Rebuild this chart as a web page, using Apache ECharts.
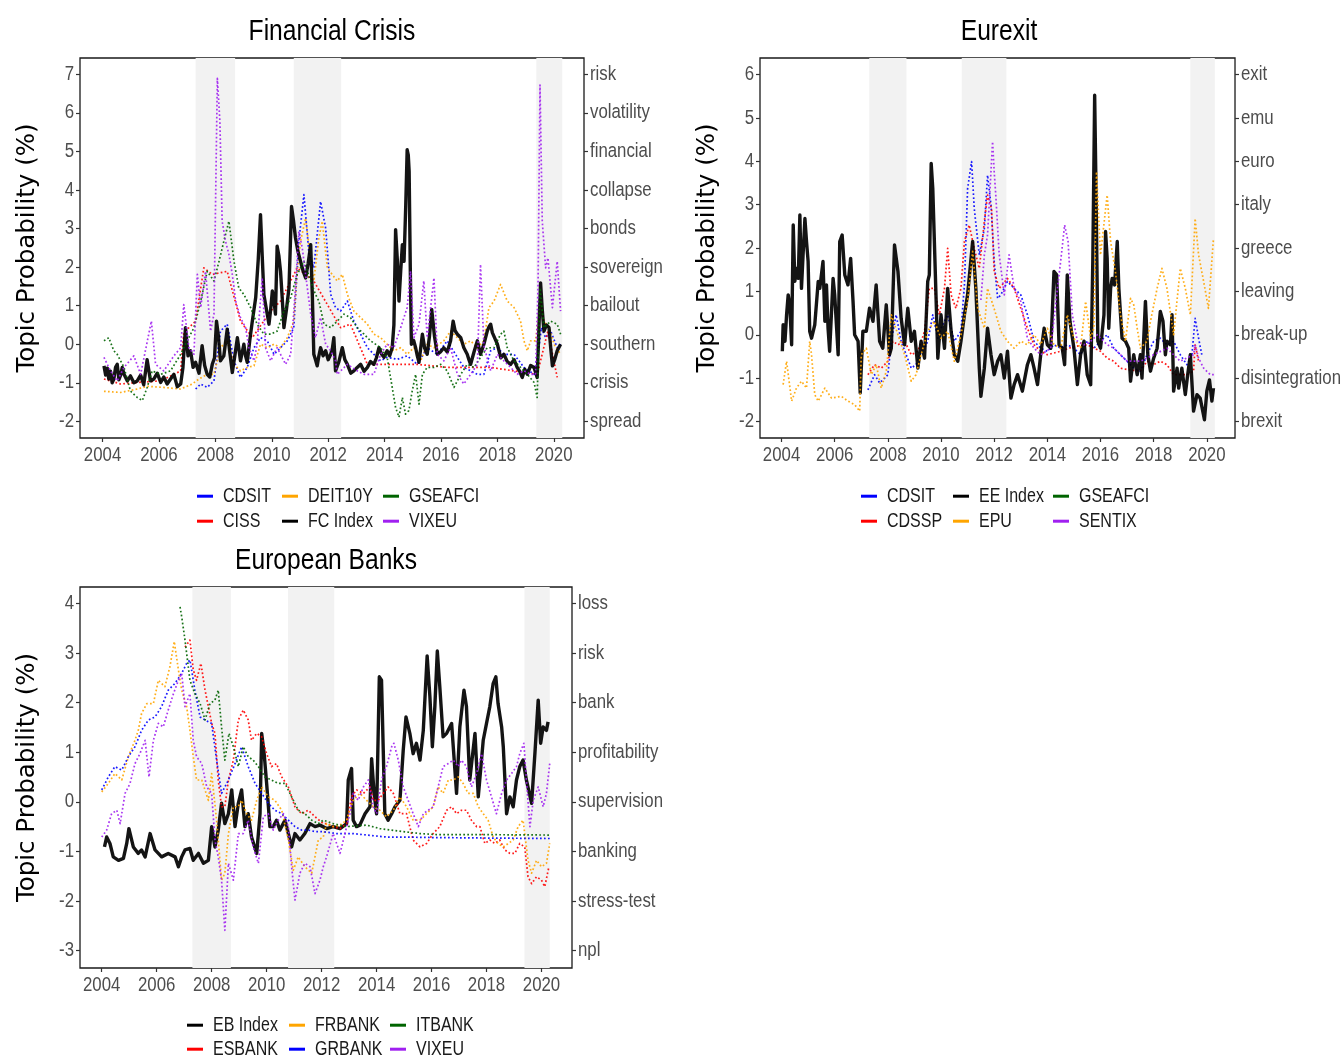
<!DOCTYPE html>
<html><head><meta charset="utf-8">
<script src="https://cdn.jsdelivr.net/npm/echarts@6/dist/echarts.min.js"></script>
<style>html,body{margin:0;padding:0;background:#fff}#c{width:1344px;height:1059px}</style>
</head><body><div id="c"></div>
<script>
// ---------- shared ----------
const yearTicks = [2004,2006,2008,2010,2012,2014,2016,2018,2020];
const recessions = [[2007.3,2008.7],[2010.78,2012.46],[2019.38,2020.3]];
const yAxisTitle = 'Topic Probability (%)';

// ---------- Panel 1: Financial Crisis ----------
const p1Ticks = [7,6,5,4,3,2,1,0,-1,-2];
const p1Words = ['risk','volatility','financial','collapse','bonds','sovereign','bailout','southern','crisis','spread'];
const p1CDSIT = [[2007.30,-1.16],[2007.48,-1.03],[2007.71,-1.12],[2007.95,-0.95],[2008.18,0.34],[2008.42,0.52],[2008.66,-0.43],[2008.89,-0.86],[2009.13,-0.6],[2009.37,-0.09],[2009.60,0.17],[2009.84,0.09],[2010.08,-0.26],[2010.31,-0.09],[2010.55,0.09],[2010.78,0.43],[2010.96,2.67],[2011.14,3.88],[2011.32,2.33],[2011.49,1.98],[2011.73,3.7],[2011.91,3.01],[2012.09,1.29],[2012.26,0.95],[2012.44,0.86],[2012.68,1.12],[2012.91,0.6],[2013.15,0.26],[2013.39,-0.09],[2013.62,-0.26],[2013.86,-0.43],[2014.09,-0.34],[2014.45,-0.39],[2014.80,-0.3],[2015.16,-0.52],[2015.51,-0.09],[2015.87,-0.26],[2016.22,0.09],[2016.58,-0.34],[2016.81,-0.6],[2017.05,-0.69],[2017.29,-0.78],[2017.52,-0.78],[2017.76,-0.17],[2018.00,-0.09],[2018.23,-0.26],[2018.59,-0.26],[2018.94,-0.6],[2019.30,-0.78],[2019.47,-0.09],[2019.56,0.43],[2019.71,0.17],[2019.89,0.34],[2020.12,-0.09],[2020.24,0]];
const p1CISS = [[2004.05,-0.9],[2004.64,-1.03],[2005.23,-0.99],[2006.06,-0.95],[2006.77,-0.69],[2006.88,0.3],[2007.30,0.6],[2007.59,1.98],[2007.89,1.81],[2008.42,1.89],[2008.89,0.6],[2009.31,0.17],[2009.96,0.86],[2010.31,1.12],[2010.90,1.98],[2011.49,1.64],[2012.44,0.43],[2012.79,0.52],[2013.39,-0.52],[2013.98,-0.52],[2015.16,-0.52],[2016.22,-0.6],[2017.76,-0.6],[2019.41,-0.78],[2019.79,0.34],[2020.12,-0.86]];
const p1DEIT10Y = [[2004.05,-1.22],[2004.64,-1.25],[2005.23,-1.16],[2005.58,-1.09],[2006.17,-1.12],[2006.77,-1.16],[2007.18,-1.03],[2007.42,-0.9],[2007.71,-0.78],[2007.95,-0.78],[2008.18,-0.09],[2008.42,0.09],[2008.66,-0.52],[2008.89,-0.69],[2009.13,-0.6],[2009.37,-0.56],[2009.60,0],[2009.84,-0.09],[2010.08,0],[2010.31,-0.09],[2010.55,0.17],[2010.78,0.6],[2010.90,1.89],[2011.02,2.67],[2011.20,3.27],[2011.38,2.15],[2011.49,1.64],[2011.67,2.76],[2011.79,3.19],[2011.97,1.98],[2012.14,1.81],[2012.32,1.64],[2012.50,1.81],[2012.68,1.29],[2012.91,0.86],[2013.15,0.69],[2013.39,0.52],[2013.62,0.26],[2013.86,0.17],[2014.09,0],[2014.33,-0.17],[2014.57,-0.09],[2014.80,-0.26],[2015.04,-0.09],[2015.28,-0.43],[2015.51,0],[2015.75,-0.09],[2016.10,0.09],[2016.34,0.34],[2016.58,0.17],[2016.81,0],[2017.05,0.09],[2017.29,-0.09],[2017.52,0.09],[2017.70,0.95],[2017.88,1.12],[2018.11,1.55],[2018.35,1.12],[2018.59,0.95],[2018.82,0.6],[2018.94,0.09],[2019.06,-0.17],[2019.18,0.09],[2019.35,0.09],[2019.53,1.12],[2019.65,0.6],[2019.83,0.43],[2020.01,0],[2020.24,-0.26]];
const p1FCIndex = [[2004.05,-0.56],[2004.11,-0.8],[2004.17,-0.62],[2004.22,-0.9],[2004.28,-0.7],[2004.34,-1.0],[2004.40,-0.9],[2004.46,-0.6],[2004.52,-0.52],[2004.58,-0.92],[2004.64,-0.8],[2004.70,-0.6],[2004.76,-0.78],[2004.88,-0.95],[2004.99,-0.82],[2005.11,-1.0],[2005.23,-0.95],[2005.35,-0.8],[2005.46,-1.05],[2005.58,-0.4],[2005.70,-0.95],[2005.82,-0.9],[2005.94,-0.75],[2006.06,-0.99],[2006.17,-0.85],[2006.29,-1.03],[2006.41,-0.9],[2006.53,-0.78],[2006.65,-1.1],[2006.77,-1.03],[2006.85,-0.6],[2006.94,0.43],[2007.03,-0.3],[2007.12,-0.17],[2007.21,-0.6],[2007.30,-0.47],[2007.42,-0.75],[2007.53,-0.04],[2007.62,-0.55],[2007.71,-0.78],[2007.80,-0.85],[2007.89,-0.52],[2007.97,-0.35],[2008.04,0.6],[2008.11,0.2],[2008.18,-0.43],[2008.30,-0.3],[2008.42,0.39],[2008.51,-0.2],[2008.60,-0.73],[2008.69,-0.3],[2008.78,0.17],[2008.89,-0.43],[2009.01,0],[2009.07,-0.3],[2009.13,-0.47],[2009.22,0.1],[2009.31,0.6],[2009.43,1.21],[2009.52,2.2],[2009.60,3.36],[2009.66,2.3],[2009.72,1.29],[2009.81,0.9],[2009.90,0.52],[2009.96,0.9],[2010.02,1.38],[2010.08,1.1],[2010.13,0.78],[2010.19,2.54],[2010.25,2.3],[2010.31,1.89],[2010.37,1.2],[2010.43,0.43],[2010.52,0.9],[2010.61,1.46],[2010.70,3.57],[2010.77,3.2],[2010.84,2.76],[2010.93,2.4],[2011.02,2.15],[2011.11,1.9],[2011.20,1.72],[2011.29,2.1],[2011.38,2.58],[2011.44,1.2],[2011.49,-0.26],[2011.55,-0.4],[2011.61,-0.56],[2011.67,-0.3],[2011.73,-0.09],[2011.82,-0.3],[2011.91,-0.17],[2012.00,-0.4],[2012.09,-0.26],[2012.15,-0.1],[2012.20,0.17],[2012.26,-0.69],[2012.38,-0.45],[2012.50,-0.09],[2012.59,-0.4],[2012.68,-0.52],[2012.80,-0.75],[2012.91,-0.69],[2013.03,-0.6],[2013.15,-0.52],[2013.27,-0.7],[2013.39,-0.6],[2013.50,-0.45],[2013.62,-0.52],[2013.71,-0.35],[2013.80,-0.09],[2013.89,-0.25],[2013.98,-0.34],[2014.09,-0.17],[2014.18,-0.3],[2014.27,-0.09],[2014.33,0.5],[2014.39,2.97],[2014.45,2.2],[2014.51,1.12],[2014.57,1.89],[2014.63,2.58],[2014.69,2.15],[2014.75,3.6],[2014.80,5.04],[2014.84,4.9],[2014.87,4.48],[2014.91,2.0],[2014.95,0],[2015.03,0.1],[2015.10,-0.09],[2015.16,-0.3],[2015.22,-0.47],[2015.28,-0.1],[2015.34,0.26],[2015.42,-0.1],[2015.51,-0.26],[2015.59,0.2],[2015.67,0.9],[2015.77,0.2],[2015.87,-0.26],[2015.98,-0.2],[2016.10,-0.09],[2016.22,-0.2],[2016.34,0.09],[2016.43,0.6],[2016.50,0.35],[2016.58,0.26],[2016.70,0.17],[2016.81,-0.09],[2016.93,-0.26],[2016.99,-0.4],[2017.05,-0.52],[2017.17,-0.2],[2017.29,0.09],[2017.40,-0.26],[2017.52,0.0],[2017.64,0.34],[2017.70,0.45],[2017.76,0.52],[2017.82,0.3],[2017.88,0.34],[2017.94,0.1],[2018.00,0],[2018.12,-0.35],[2018.23,-0.26],[2018.35,-0.45],[2018.47,-0.52],[2018.59,-0.4],[2018.70,-0.6],[2018.79,-0.7],[2018.88,-0.86],[2018.97,-0.65],[2019.06,-0.78],[2019.18,-0.55],[2019.30,-0.6],[2019.41,-0.86],[2019.44,-0.26],[2019.48,0.6],[2019.53,1.59],[2019.59,0.9],[2019.65,0.34],[2019.74,0.5],[2019.83,0.43],[2019.89,-0.1],[2019.95,-0.56],[2020.03,-0.4],[2020.12,-0.17],[2020.24,0]];
const p1GSEAFCI = [[2004.05,0.09],[2004.22,0.17],[2004.40,-0.17],[2004.52,-0.26],[2004.76,-0.6],[2004.99,-1.21],[2005.23,-1.38],[2005.41,-1.46],[2005.58,-1.12],[2005.76,-0.69],[2006.06,-0.78],[2006.41,-0.69],[2006.77,-0.26],[2007.00,0.09],[2007.24,0.43],[2007.48,1.12],[2007.71,1.89],[2007.95,1.64],[2008.13,2.15],[2008.30,2.67],[2008.48,3.19],[2008.66,2.15],[2008.83,1.46],[2009.01,1.29],[2009.25,0.95],[2009.48,0.52],[2009.72,0.26],[2009.96,0.26],[2010.19,0.34],[2010.43,0.86],[2010.67,1.21],[2010.90,1.81],[2011.14,2.15],[2011.38,1.64],[2011.55,1.29],[2011.67,1.12],[2011.85,0.52],[2012.09,0.43],[2012.32,0.6],[2012.56,0.78],[2012.79,0.69],[2013.03,0.43],[2013.27,0.26],[2013.50,0.09],[2013.86,-0.09],[2014.09,-0.34],[2014.27,-1.12],[2014.39,-1.64],[2014.51,-1.89],[2014.63,-1.38],[2014.74,-1.81],[2014.86,-1.72],[2014.98,-1.21],[2015.10,-0.78],[2015.22,-1.55],[2015.34,-0.78],[2015.51,-0.6],[2015.75,-0.6],[2015.99,-0.52],[2016.22,-0.69],[2016.46,-1.12],[2016.70,-0.78],[2016.93,-0.52],[2017.17,-0.6],[2017.40,-0.34],[2017.64,-0.09],[2017.88,-0.09],[2018.11,0.26],[2018.23,0.34],[2018.35,-0.09],[2018.59,-0.43],[2018.82,-0.6],[2019.06,-0.78],[2019.30,-0.99],[2019.41,-1.38],[2019.51,1.46],[2019.65,0.43],[2019.89,0.6],[2020.12,0.52],[2020.24,0.26]];
const p1VIXEU = [[2004.05,-0.34],[2004.28,-0.69],[2004.52,-0.95],[2004.76,-0.6],[2005.11,-0.3],[2005.35,-0.78],[2005.73,0.6],[2005.88,-0.52],[2006.17,-0.69],[2006.53,-0.3],[2006.77,-0.09],[2006.88,1.03],[2007.06,-0.09],[2007.24,-0.26],[2007.36,1.81],[2007.48,0.95],[2007.65,1.89],[2007.83,0.34],[2007.95,0.78],[2008.07,6.89],[2008.16,5.77],[2008.24,3.19],[2008.36,2.67],[2008.48,2.33],[2008.60,1.81],[2008.72,1.12],[2008.89,0.69],[2009.07,0.43],[2009.19,-0.09],[2009.37,-0.43],[2009.48,0],[2009.66,1.72],[2009.78,-0.09],[2009.96,-0.43],[2010.19,-0.09],[2010.31,-0.26],[2010.49,-0.52],[2010.67,-0.26],[2010.84,1.46],[2010.96,2.93],[2011.08,2.5],[2011.26,1.46],[2011.38,0.78],[2011.55,0.17],[2011.73,0.69],[2011.91,0],[2012.09,-0.17],[2012.26,-0.43],[2012.32,-0.78],[2012.68,-0.52],[2013.03,-0.69],[2013.27,-0.78],[2013.62,-0.78],[2013.86,-0.26],[2014.09,0],[2014.33,-0.09],[2014.57,0.43],[2014.80,0.95],[2014.92,1.89],[2015.04,0.17],[2015.22,0.52],[2015.39,1.64],[2015.51,0.17],[2015.75,1.72],[2015.87,-0.26],[2016.10,-0.43],[2016.34,-0.09],[2016.58,-0.78],[2016.81,-1.03],[2017.05,-0.78],[2017.29,-0.52],[2017.40,2.07],[2017.52,-0.04],[2017.76,-0.69],[2018.00,-0.26],[2018.23,-0.43],[2018.47,-0.6],[2018.70,-0.78],[2018.94,-0.69],[2019.18,-0.78],[2019.35,-0.78],[2019.44,1.46],[2019.51,6.72],[2019.59,3.19],[2019.71,1.98],[2019.79,2.24],[2019.95,0.95],[2020.12,2.15],[2020.24,0.86]];

// ---------- Panel 2: Eurexit ----------
const p2Ticks = [6,5,4,3,2,1,0,-1,-2];
const p2Words = ['exit','emu','euro','italy','greece','leaving','break-up','disintegration','brexit'];
const p2CDSIT = [[2007.25,-1.27],[2007.50,-0.92],[2007.69,-1.11],[2007.88,-1.0],[2008.00,-0.92],[2008.13,-0.15],[2008.31,0.46],[2008.50,-0.15],[2008.69,-0.46],[2008.88,-0.77],[2009.06,-0.69],[2009.25,-0.38],[2009.38,-0.31],[2009.50,-0.15],[2009.69,0.46],[2009.88,-0.08],[2010.00,0.15],[2010.25,0.46],[2010.50,-0.15],[2010.75,0.08],[2010.88,1.15],[2011.00,3.37],[2011.15,3.99],[2011.25,2.91],[2011.44,1.84],[2011.63,2.45],[2011.75,3.68],[2011.88,2.99],[2012.00,1.69],[2012.13,0.84],[2012.25,0.92],[2012.50,1.23],[2012.75,1.07],[2013.00,0.92],[2013.25,0.46],[2013.50,-0.15],[2013.75,-0.31],[2014.00,-0.38],[2014.25,-0.23],[2014.50,-0.31],[2014.75,-0.23],[2015.00,-0.31],[2015.25,-0.46],[2015.50,-0.15],[2015.75,-0.31],[2016.00,-0.15],[2016.25,0],[2016.50,-0.31],[2016.75,-0.46],[2017.00,-0.61],[2017.25,-0.77],[2017.50,-0.84],[2017.75,-0.46],[2018.00,-0.15],[2018.25,-0.08],[2018.50,-0.23],[2018.75,-0.15],[2019.00,-0.46],[2019.25,-0.69],[2019.44,-0.46],[2019.56,0.38],[2019.69,-0.08],[2019.81,-0.46]];
const p2CDSSP = [[2007.25,-0.92],[2007.50,-0.69],[2007.75,-0.77],[2008.00,-0.61],[2008.19,-0.15],[2008.38,-0.23],[2008.63,-0.15],[2008.88,-0.46],[2009.13,-0.38],[2009.38,0.08],[2009.56,1.07],[2009.75,1.07],[2009.94,0.46],[2010.13,1.07],[2010.25,1.99],[2010.38,0.92],[2010.56,0.61],[2010.75,1.07],[2010.88,2.15],[2011.06,2.53],[2011.25,1.99],[2011.44,1.53],[2011.63,2.61],[2011.75,3.22],[2011.90,2.91],[2012.00,1.46],[2012.19,1.07],[2012.50,1.30],[2012.75,1.07],[2013.00,0.61],[2013.25,0.15],[2013.50,-0.23],[2013.75,-0.38],[2014.00,-0.46],[2014.50,-0.38],[2015.00,-0.27],[2015.50,-0.23],[2016.00,-0.38],[2016.25,-0.54],[2016.50,-0.61],[2016.75,-0.77],[2017.00,-0.80],[2017.50,-0.84],[2017.75,-0.61],[2018.00,-0.69],[2018.25,-0.61],[2018.50,-0.69],[2018.75,-0.92],[2019.25,-0.92],[2019.50,-0.84],[2019.56,-0.23],[2019.69,-0.61]];
const p2EEIndex = [[2004.03,-0.38],[2004.06,0.23],[2004.13,-0.15],[2004.19,0.46],[2004.25,0.92],[2004.31,0.69],[2004.38,-0.23],[2004.44,2.53],[2004.50,1.23],[2004.56,1.53],[2004.63,1.30],[2004.69,2.76],[2004.75,1.07],[2004.81,1.84],[2004.88,2.68],[2004.94,2.15],[2005.00,1.69],[2005.06,0.08],[2005.13,-0.08],[2005.25,0.23],[2005.38,1.23],[2005.44,1.07],[2005.56,1.69],[2005.63,0.31],[2005.69,1.15],[2005.75,0.15],[2005.81,-0.38],[2005.94,1.30],[2006.00,0.92],[2006.13,-0.46],[2006.19,2.15],[2006.28,2.30],[2006.38,1.38],[2006.50,1.15],[2006.60,1.76],[2006.69,0.77],[2006.75,0],[2006.88,-0.15],[2006.96,-1.34],[2007.06,0.08],[2007.19,0.08],[2007.31,0.61],[2007.44,0.31],[2007.56,1.15],[2007.69,-0.15],[2007.81,-0.31],[2007.94,0.69],[2008.06,-0.46],[2008.13,-0.31],[2008.25,2.07],[2008.38,1.46],[2008.50,0.38],[2008.63,-0.23],[2008.75,0.61],[2008.88,-0.15],[2009.00,0.08],[2009.13,-0.77],[2009.25,-0.15],[2009.38,-0.54],[2009.50,1.23],[2009.56,1.38],[2009.63,3.95],[2009.69,3.37],[2009.81,0.92],[2009.88,-0.54],[2010.00,0.46],[2010.13,-0.31],[2010.25,1.07],[2010.38,0.08],[2010.50,-0.46],[2010.63,-0.61],[2010.75,-0.15],[2010.88,0.46],[2011.00,0.92],[2011.19,2.15],[2011.31,1.07],[2011.44,-0.77],[2011.50,-1.42],[2011.63,-0.77],[2011.75,0.15],[2011.88,-0.46],[2012.00,-0.92],[2012.13,-0.61],[2012.25,-0.46],[2012.38,-1.00],[2012.50,-0.38],[2012.63,-1.46],[2012.75,-1.15],[2012.88,-0.92],[2013.06,-1.30],[2013.25,-0.69],[2013.38,-0.46],[2013.50,-0.77],[2013.63,-1.15],[2013.75,-0.46],[2013.88,0.15],[2014.00,-0.23],[2014.13,-0.31],[2014.25,1.46],[2014.35,1.38],[2014.44,-0.23],[2014.56,-0.31],[2014.65,-0.69],[2014.75,1.38],[2014.85,0.31],[2015.00,-0.31],[2015.13,-1.15],[2015.25,-0.46],[2015.38,-0.15],[2015.50,-0.92],[2015.63,-1.15],[2015.71,1.69],[2015.78,5.52],[2015.83,3.37],[2015.90,-0.15],[2016.00,-0.31],[2016.13,0.46],[2016.19,2.38],[2016.25,1.76],[2016.31,0.15],[2016.38,1.07],[2016.44,1.30],[2016.53,1.15],[2016.63,2.15],[2016.69,1.07],[2016.81,-0.08],[2016.94,-0.15],[2017.06,-0.31],[2017.13,-1.07],[2017.25,-0.46],[2017.38,-0.92],[2017.50,-0.46],[2017.56,-1.00],[2017.69,0.77],[2017.78,-0.46],[2017.88,-0.84],[2018.00,-0.54],[2018.13,-0.31],[2018.25,0.54],[2018.35,0.31],[2018.44,-0.46],[2018.50,-0.15],[2018.63,-0.23],[2018.69,0.46],[2018.75,-1.30],[2018.88,-0.77],[2018.94,-1.23],[2019.06,-0.77],[2019.19,-1.38],[2019.28,-0.92],[2019.38,-0.46],[2019.50,-1.76],[2019.63,-1.38],[2019.75,-1.46],[2019.91,-1.96],[2020.00,-1.30],[2020.10,-1.04],[2020.19,-1.53],[2020.25,-1.23]];
const p2EPU = [[2004.06,-1.15],[2004.19,-0.61],[2004.38,-1.53],[2004.56,-1.23],[2004.75,-1.07],[2004.94,-1.23],[2005.06,-0.15],[2005.13,-0.46],[2005.25,-1.38],[2005.38,-1.53],[2005.63,-1.23],[2005.88,-1.46],[2006.25,-1.42],[2006.50,-1.53],[2006.75,-1.61],[2006.94,-1.76],[2007.00,-0.46],[2007.19,-0.31],[2007.38,-0.92],[2007.56,-0.69],[2007.75,-1.23],[2007.94,-0.84],[2008.13,0.46],[2008.38,0],[2008.63,-0.46],[2008.88,-1.07],[2009.06,-0.92],[2009.25,-0.46],[2009.50,0.08],[2009.75,0.31],[2010.00,-0.08],[2010.25,0.08],[2010.50,-0.61],[2010.75,0],[2011.00,0.77],[2011.19,1.92],[2011.38,0.61],[2011.63,0.15],[2011.75,1.07],[2012.00,0.6],[2012.25,0.08],[2012.50,-0.15],[2012.75,-0.31],[2013.00,-0.15],[2013.25,-0.23],[2013.50,0],[2013.75,-0.23],[2014.00,0.15],[2014.25,-0.23],[2014.50,-0.31],[2014.75,0.46],[2015.00,-0.08],[2015.25,-0.31],[2015.44,0.77],[2015.63,-0.08],[2015.75,0.15],[2015.85,3.76],[2016.00,1.84],[2016.25,3.22],[2016.38,2.15],[2016.56,1.46],[2016.75,0.46],[2016.94,-0.15],[2017.13,0.84],[2017.25,0.69],[2017.38,0.15],[2017.50,-0.31],[2017.75,-0.15],[2017.88,0.31],[2018.13,1.07],[2018.31,1.53],[2018.50,1.07],[2018.75,0],[2019.00,1.53],[2019.19,1.07],[2019.38,0.46],[2019.56,2.68],[2019.69,1.84],[2019.88,1.23],[2020.06,0.61],[2020.25,2.22]];
const p2GSEAFCI = [];
const p2SENTIX = [[2011.50,0.8],[2011.63,1.84],[2011.75,2.3],[2011.94,4.45],[2012.00,3.76],[2012.06,3.22],[2012.19,1.84],[2012.38,0.92],[2012.56,1.84],[2012.75,1.07],[2013.00,0.77],[2013.25,-0.08],[2013.50,-0.31],[2013.75,-0.46],[2014.13,-0.31],[2014.38,1.07],[2014.50,1.69],[2014.65,2.53],[2014.78,2.15],[2014.94,0.46],[2015.13,-0.15],[2015.38,-0.23],[2015.63,-0.15],[2015.88,0],[2016.25,-0.23],[2016.50,-0.31],[2016.75,-0.46],[2017.00,-0.61],[2017.50,-0.61],[2018.00,-0.46],[2018.50,-0.31],[2019.00,-0.61],[2019.50,-0.46],[2019.56,-0.23],[2019.69,-0.54],[2019.88,-0.77],[2020.13,-0.92],[2020.31,-0.92]];

// ---------- Panel 3: European Banks ----------
const p3Ticks = [4,3,2,1,0,-1,-2,-3];
const p3Words = ['loss','risk','bank','profitability','supervision','banking','stress-test','npl'];
const p3EBIndex = [[2004.10,-0.91],[2004.18,-0.71],[2004.30,-0.84],[2004.42,-1.11],[2004.61,-1.18],[2004.79,-1.14],[2004.91,-0.84],[2004.99,-0.54],[2005.15,-0.91],[2005.33,-1.04],[2005.45,-0.97],[2005.58,-1.11],[2005.76,-0.64],[2005.94,-0.97],[2006.18,-1.11],[2006.42,-1.04],[2006.67,-1.11],[2006.79,-1.31],[2006.91,-1.11],[2007.03,-0.97],[2007.21,-0.94],[2007.33,-1.18],[2007.52,-1.04],[2007.70,-1.24],[2007.88,-1.18],[2008.00,-0.5],[2008.12,-0.91],[2008.24,-0.57],[2008.36,-0.03],[2008.48,-0.44],[2008.61,-0.24],[2008.73,0.24],[2008.85,-0.5],[2008.97,-0.03],[2009.09,0.24],[2009.21,-0.5],[2009.33,-0.24],[2009.45,-0.71],[2009.64,-1.04],[2009.76,-0.24],[2009.82,1.38],[2009.91,0.97],[2010.00,0.37],[2010.12,-0.5],[2010.24,-0.5],[2010.36,-0.37],[2010.48,-0.57],[2010.67,-0.37],[2010.79,-0.64],[2010.91,-0.91],[2011.03,-0.64],[2011.21,-0.77],[2011.39,-0.64],[2011.58,-0.44],[2011.76,-0.5],[2011.94,-0.47],[2012.18,-0.54],[2012.42,-0.5],[2012.67,-0.54],[2012.91,-0.44],[2012.97,0.44],[2013.09,0.67],[2013.15,-0.37],[2013.27,-0.5],[2013.39,-0.47],[2013.58,-0.24],[2013.76,-0.1],[2013.82,0.87],[2013.91,0.17],[2014.00,-0.24],[2014.10,2.52],[2014.18,2.45],[2014.30,-0.24],[2014.42,-0.37],[2014.55,-0.24],[2014.67,-0.1],[2014.85,0.03],[2014.97,1.04],[2015.07,1.71],[2015.21,1.38],[2015.33,0.97],[2015.45,1.18],[2015.58,0.84],[2015.70,1.44],[2015.84,2.94],[2015.94,2.12],[2016.03,1.11],[2016.12,1.92],[2016.21,3.04],[2016.30,2.32],[2016.42,1.31],[2016.55,1.38],[2016.73,1.58],[2016.91,0.17],[2017.03,1.51],[2017.18,2.25],[2017.27,1.92],[2017.39,0.44],[2017.58,1.38],[2017.70,0.1],[2017.88,1.24],[2018.00,1.58],[2018.12,1.92],[2018.24,2.38],[2018.34,2.52],[2018.42,1.98],[2018.55,1.51],[2018.61,1.11],[2018.73,-0.24],[2018.85,0.1],[2018.97,-0.1],[2019.09,0.44],[2019.21,0.71],[2019.33,0.84],[2019.45,0.44],[2019.64,-0.03],[2019.76,0.97],[2019.88,2.05],[2019.97,1.18],[2020.06,1.51],[2020.18,1.44],[2020.24,1.61]];
const p3ESBANK = [[2007.03,3.12],[2007.21,3.26],[2007.33,2.66],[2007.45,2.45],[2007.61,2.79],[2007.76,2.25],[2007.88,1.92],[2008.00,1.58],[2008.12,1.38],[2008.24,0.44],[2008.36,-0.1],[2008.48,-0.1],[2008.61,0.44],[2008.79,0.84],[2008.97,1.65],[2009.15,1.85],[2009.33,1.65],[2009.45,1.24],[2009.64,1.38],[2009.82,1.31],[2010.00,0.97],[2010.18,0.71],[2010.36,0.77],[2010.55,0.5],[2010.79,0.3],[2011.03,-0.1],[2011.27,-0.24],[2011.52,-0.17],[2011.76,-0.3],[2012.06,-0.44],[2012.18,-0.44],[2012.42,-0.5],[2012.67,-0.54],[2012.91,-0.44],[2013.09,0.1],[2013.27,0.24],[2013.52,0.17],[2013.76,0.3],[2013.88,0.03],[2014.06,0.03],[2014.24,0.17],[2014.42,0.3],[2014.61,0.17],[2014.85,-0.24],[2015.09,-0.24],[2015.33,-0.77],[2015.58,-0.91],[2015.82,-0.84],[2016.06,-0.64],[2016.30,-0.5],[2016.55,-0.17],[2016.73,-0.1],[2016.91,-0.24],[2017.09,-0.17],[2017.27,-0.17],[2017.45,-0.37],[2017.64,-0.5],[2017.76,-0.5],[2017.94,-0.84],[2018.12,-0.77],[2018.30,-0.84],[2018.48,-0.77],[2018.67,-0.97],[2018.85,-1.04],[2019.03,-1.04],[2019.21,-0.84],[2019.39,-0.91],[2019.51,-1.51],[2019.64,-1.65],[2019.82,-1.51],[2020.00,-1.58],[2020.12,-1.71],[2020.27,-1.31]];
const p3FRBANK = [[2004.00,0.2],[2004.24,0.37],[2004.48,0.57],[2004.73,0.44],[2004.97,0.91],[2005.21,1.24],[2005.33,1.44],[2005.45,1.78],[2005.64,1.98],[2005.88,1.98],[2006.06,2.45],[2006.30,2.32],[2006.48,2.72],[2006.64,3.23],[2006.79,2.66],[2006.91,2.25],[2007.09,1.92],[2007.21,1.44],[2007.33,0.91],[2007.45,0.44],[2007.64,0.44],[2007.88,0.03],[2008.00,0.57],[2008.18,-0.37],[2008.36,-1.58],[2008.48,-1.44],[2008.61,-0.64],[2008.79,-0.1],[2008.97,-0.1],[2009.09,0.03],[2009.27,-0.24],[2009.45,-0.37],[2009.64,0.03],[2009.82,0.3],[2010.06,0.1],[2010.30,0.03],[2010.55,-0.17],[2010.79,-0.77],[2010.97,-1.38],[2011.15,-1.11],[2011.39,-1.31],[2011.64,-1.44],[2011.88,-0.77],[2012.06,-0.71],[2012.18,-0.44],[2012.42,-0.5],[2012.67,-0.47],[2012.91,-0.37],[2013.15,0.03],[2013.39,0.17],[2013.64,0.03],[2013.88,-0.1],[2014.12,-0.17],[2014.36,-0.3],[2014.61,-0.17],[2014.85,0.1],[2015.09,-0.1],[2015.33,-0.37],[2015.58,-0.37],[2015.82,-0.24],[2016.06,-0.1],[2016.24,0.3],[2016.42,0.17],[2016.61,0.44],[2016.79,0.44],[2016.97,0.5],[2017.15,0.37],[2017.33,0.17],[2017.52,0.17],[2017.70,-0.1],[2017.88,-0.24],[2018.06,-0.37],[2018.24,-0.71],[2018.42,-0.84],[2018.61,-0.91],[2018.79,-0.84],[2018.97,-0.77],[2019.15,-0.5],[2019.33,-0.37],[2019.51,-1.18],[2019.64,-1.44],[2019.82,-1.18],[2020.00,-1.31],[2020.18,-1.24],[2020.30,-0.84]];
const p3GRBANK = [[2004.00,0.24],[2004.24,0.5],[2004.48,0.71],[2004.73,0.64],[2004.97,0.91],[2005.21,1.11],[2005.45,1.44],[2005.70,1.65],[2005.94,1.71],[2006.18,1.92],[2006.42,2.25],[2006.67,2.39],[2006.91,2.59],[2007.09,2.79],[2007.21,2.86],[2007.39,2.25],[2007.58,1.71],[2007.76,1.65],[2008.00,1.58],[2008.18,0.84],[2008.36,0.17],[2008.61,0.44],[2008.85,0.77],[2009.09,1.11],[2009.33,0.71],[2009.58,0.37],[2009.82,0.17],[2010.06,-0.03],[2010.30,-0.17],[2010.55,-0.24],[2010.79,-0.37],[2011.03,-0.5],[2011.27,-0.57],[2011.52,-0.57],[2011.76,-0.6],[2012.00,-0.6],[2012.55,-0.64],[2013.15,-0.64],[2013.64,-0.67],[2014.36,-0.71],[2014.97,-0.71],[2016.00,-0.72],[2018.00,-0.73],[2020.30,-0.74]];
const p3ITBANK = [[2006.85,3.93],[2006.91,3.73],[2007.03,3.26],[2007.21,2.45],[2007.39,2.18],[2007.58,1.98],[2007.76,1.65],[2007.94,1.98],[2008.12,2.05],[2008.24,2.25],[2008.36,1.51],[2008.48,0.84],[2008.63,1.38],[2008.79,1.11],[2008.97,0.71],[2009.15,1.11],[2009.33,0.91],[2009.51,0.84],[2009.70,0.71],[2009.94,0.5],[2010.18,0.44],[2010.42,0.37],[2010.67,0.37],[2010.91,0.1],[2011.15,-0.17],[2011.39,-0.24],[2011.64,-0.37],[2011.88,-0.44],[2012.06,-0.37],[2012.42,-0.44],[2012.91,-0.5],[2013.64,-0.47],[2014.12,-0.54],[2014.97,-0.6],[2015.58,-0.64],[2016.18,-0.66],[2017.39,-0.66],[2020.30,-0.67]];
const p3VIXEU = [[2004.00,-0.71],[2004.18,-0.57],[2004.36,-0.24],[2004.55,-0.17],[2004.67,-0.44],[2004.85,0.17],[2005.03,0.37],[2005.21,0.77],[2005.39,0.97],[2005.58,1.24],[2005.72,0.5],[2005.88,1.24],[2006.06,1.58],[2006.24,1.51],[2006.42,1.85],[2006.61,2.18],[2006.79,2.45],[2006.91,2.59],[2007.03,1.92],[2007.21,2.18],[2007.33,1.24],[2007.45,0.91],[2007.64,0.77],[2007.82,0.3],[2008.00,0.17],[2008.12,-0.77],[2008.24,-1.11],[2008.36,-1.58],[2008.48,-2.59],[2008.61,-1.24],[2008.79,-1.58],[2008.97,-0.64],[2009.15,-0.64],[2009.33,-0.37],[2009.51,-0.91],[2009.70,-1.24],[2009.88,-0.3],[2010.06,-0.24],[2010.24,-0.57],[2010.42,-0.37],[2010.61,-0.24],[2010.79,-0.5],[2010.91,-1.31],[2011.03,-1.98],[2011.21,-1.44],[2011.39,-1.24],[2011.58,-1.31],[2011.76,-1.85],[2011.94,-1.58],[2012.06,-1.31],[2012.18,-1.11],[2012.42,-0.64],[2012.67,-1.04],[2012.85,-0.64],[2013.03,-0.24],[2013.15,0.17],[2013.33,0.03],[2013.52,0.3],[2013.70,0.44],[2013.88,-0.1],[2014.00,-0.24],[2014.18,0.44],[2014.36,0.71],[2014.55,1.11],[2014.63,1.18],[2014.79,0.84],[2014.97,0.3],[2015.15,0.03],[2015.33,-0.24],[2015.52,-0.5],[2015.70,-0.24],[2015.88,-0.17],[2016.06,-0.1],[2016.24,0.3],[2016.42,0.71],[2016.61,0.77],[2016.79,0.84],[2016.97,0.71],[2017.09,0.84],[2017.27,0.71],[2017.45,0.3],[2017.64,0.57],[2017.82,0.97],[2018.00,0.44],[2018.18,0.1],[2018.36,-0.24],[2018.55,0.17],[2018.73,0.44],[2018.91,0.57],[2019.09,0.71],[2019.21,0.97],[2019.36,1.18],[2019.45,0.44],[2019.58,-0.5],[2019.70,0.03],[2019.88,0.3],[2020.06,-0.1],[2020.18,0.17],[2020.30,0.77]];

// ---------- narrow text rendering (condensed Liberation Sans, like Arial Narrow) ----------
const NARROW_MARK = 'NarrowSim';
const NARROW_SCALE = 0.82;
(function(){
  const P = CanvasRenderingContext2D.prototype;
  const fill = P.fillText, stroke = P.strokeText, measure = P.measureText;
  const isN = ctx => String(ctx.font).indexOf(NARROW_MARK) >= 0;
  P.fillText = function(t, x, y, mw){
    if (!isN(this)) return mw === undefined ? fill.call(this, t, x, y) : fill.call(this, t, x, y, mw);
    this.save(); this.translate(x, y); this.scale(NARROW_SCALE, 1); fill.call(this, t, 0, 0); this.restore();
  };
  P.strokeText = function(t, x, y, mw){
    if (!isN(this)) return mw === undefined ? stroke.call(this, t, x, y) : stroke.call(this, t, x, y, mw);
    this.save(); this.translate(x, y); this.scale(NARROW_SCALE, 1); stroke.call(this, t, 0, 0); this.restore();
  };
  P.measureText = function(t){
    const m = measure.call(this, t);
    if (!isN(this)) return m;
    return {width:m.width*NARROW_SCALE,
      actualBoundingBoxAscent:m.actualBoundingBoxAscent, actualBoundingBoxDescent:m.actualBoundingBoxDescent,
      actualBoundingBoxLeft:m.actualBoundingBoxLeft*NARROW_SCALE, actualBoundingBoxRight:m.actualBoundingBoxRight*NARROW_SCALE,
      fontBoundingBoxAscent:m.fontBoundingBoxAscent, fontBoundingBoxDescent:m.fontBoundingBoxDescent};
  };
})();

// ---------- styling / layout ----------
const NARROW = NARROW_MARK + ",'Liberation Sans',Arial,sans-serif";
const WIDE = "'DejaVu Sans',sans-serif";
const COL = {blue:'#0000FF', red:'#FF0000', orange:'#FFA500', green:'#006400', black:'#000000', purple:'#A020F0'};

const panels = [
  { title:'Financial Crisis', titleX:332, titleTop:19,
    grid:{left:80, top:58, width:504, height:380}, xMin:2003.2, xMax:2021.07, yMin:-2.43, yMax:7.42,
    ticks:p1Ticks, words:p1Words,
    legendCols:[197,282,383], legendRows:[497,522],
    series:[
      ['CDSIT',p1CDSIT,COL.blue,false],['CISS',p1CISS,COL.red,false],['DEIT10Y',p1DEIT10Y,COL.orange,false],
      ['FC Index',p1FCIndex,COL.black,true],['GSEAFCI',p1GSEAFCI,COL.green,false],['VIXEU',p1VIXEU,COL.purple,false]]},
  { title:'Eurexit', titleX:999, titleTop:19,
    grid:{left:760, top:58, width:477, height:380}, xMin:2003.19, xMax:2021.06, yMin:-2.38, yMax:6.38,
    ticks:p2Ticks, words:p2Words,
    legendCols:[861,953,1053], legendRows:[497,522],
    series:[
      ['CDSIT',p2CDSIT,COL.blue,false],['CDSSP',p2CDSSP,COL.red,false],['EE Index',p2EEIndex,COL.black,true],
      ['EPU',p2EPU,COL.orange,false],['GSEAFCI',p2GSEAFCI,COL.green,false],['SENTIX',p2SENTIX,COL.purple,false]]},
  { title:'European Banks', titleX:326, titleTop:548,
    grid:{left:80, top:587, width:492, height:381}, xMin:2003.21, xMax:2021.11, yMin:-3.35, yMax:4.33,
    ticks:p3Ticks, words:p3Words,
    legendCols:[187,289,390], legendRows:[1026,1050],
    series:[
      ['EB Index',p3EBIndex,COL.black,true],['ESBANK',p3ESBANK,COL.red,false],['FRBANK',p3FRBANK,COL.orange,false],
      ['GRBANK',p3GRBANK,COL.blue,false],['ITBANK',p3ITBANK,COL.green,false],['VIXEU',p3VIXEU,COL.purple,false]]}
];

const option = {backgroundColor:'#ffffff', animation:false, title:[], grid:[], xAxis:[], yAxis:[], series:[], legend:[]};

panels.forEach((p, gi) => {
  option.title.push({text:p.title, left:p.titleX, top:p.titleTop, textAlign:'center', padding:0,
    textStyle:{fontFamily:NARROW, fontSize:30, fontWeight:'normal', color:'#000'}});
  option.grid.push(Object.assign({show:true, borderColor:'#1a1a1a', borderWidth:1.3, backgroundColor:'#fff'}, p.grid));
  option.xAxis.push({type:'value', gridIndex:gi, min:p.xMin, max:p.xMax,
    axisLine:{show:false, onZero:false}, splitLine:{show:false},
    axisTick:{show:true, customValues:yearTicks, length:4, lineStyle:{color:'#333', width:1.2}},
    axisLabel:{customValues:yearTicks, formatter:v=>String(v), color:'#4D4D4D', fontFamily:NARROW, fontSize:20.5, margin:9}});
  option.yAxis.push({type:'value', gridIndex:gi, min:p.yMin, max:p.yMax, position:'left',
    name:yAxisTitle, nameLocation:'middle', nameGap:40, nameRotate:90,
    nameTextStyle:{fontFamily:WIDE, fontSize:24.5, color:'#000'},
    axisLine:{show:false, onZero:false}, splitLine:{show:false},
    axisTick:{show:true, customValues:p.ticks, length:4, lineStyle:{color:'#333', width:1.2}},
    axisLabel:{customValues:p.ticks, formatter:v=>String(v), color:'#4D4D4D', fontFamily:NARROW, fontSize:20.5, margin:6}});
  option.yAxis.push({type:'value', gridIndex:gi, min:p.yMin, max:p.yMax, position:'right',
    axisLine:{show:false, onZero:false}, splitLine:{show:false},
    axisTick:{show:true, customValues:p.ticks, length:4, lineStyle:{color:'#333', width:1.2}},
    axisLabel:{customValues:p.ticks, formatter:v=>p.words[p.ticks.indexOf(v)], color:'#4D4D4D', fontFamily:NARROW, fontSize:20.5, margin:6}});
  // shaded periods
  option.series.push({type:'line', data:[], xAxisIndex:gi, yAxisIndex:gi*2, silent:true, z:1,
    markArea:{silent:true, itemStyle:{color:'#F2F2F2'}, data:recessions.map(r=>[{xAxis:r[0]},{xAxis:r[1]}])}});
  p.series.forEach(([name, data, color, solid]) => {
    option.series.push({type:'line', name, data, xAxisIndex:gi, yAxisIndex:gi*2, showSymbol:false, symbol:'none',
      silent:true, z:2, color, itemStyle:{color},
      lineStyle: solid ? {color:'rgba(0,0,0,0.92)', width:3.4, join:'round'}
                       : {color, width:1.7, type:[1.7,2.3], opacity:0.9, join:'round'}});
  });
  // legend: 3 columns x 2 rows, column-major order
  p.series.forEach(([name], i) => {
    const col = Math.floor(i/2), row = i%2;
    option.legend.push({data:[name], left:p.legendCols[col], top:p.legendRows[row]-9, padding:0,
      icon:'rect', itemWidth:16, itemHeight:3, selectedMode:false,
      textStyle:{fontFamily:NARROW, fontSize:19.5, color:'#1a1a1a', padding:[0,0,0,5]}});
  });
});

const chart = echarts.init(document.getElementById('c'), null, {renderer:'canvas'});
chart.setOption(option);
</script>
</body></html>
